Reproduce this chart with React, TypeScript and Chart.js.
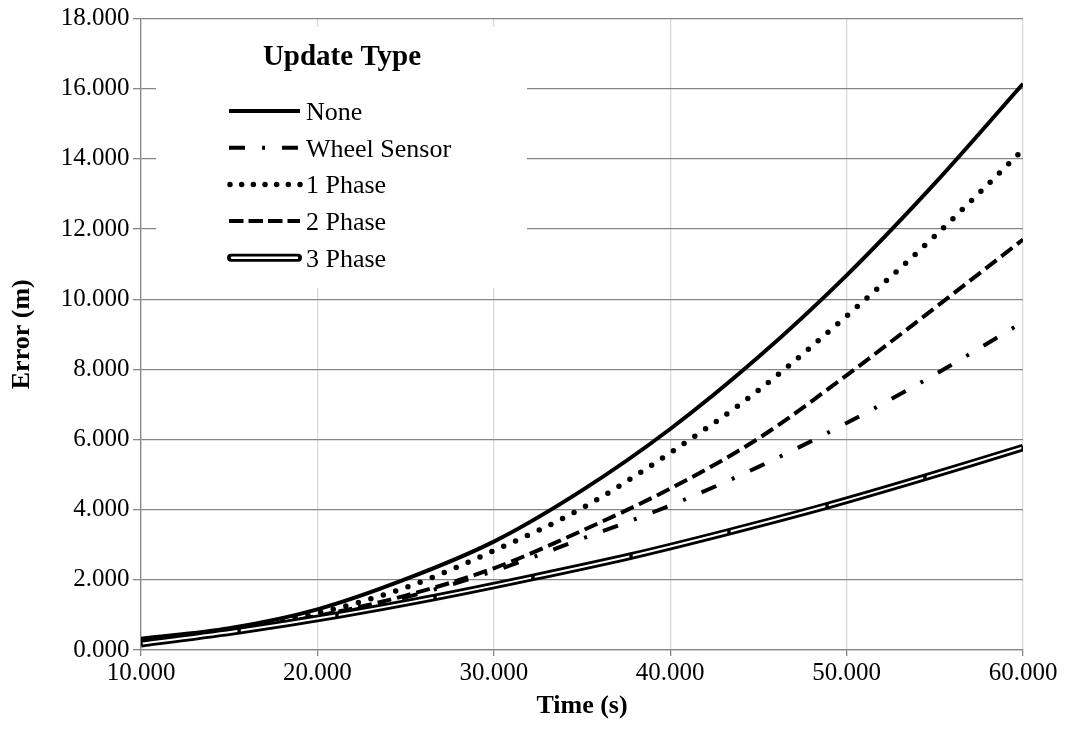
import React, { useEffect, useRef } from "react";
import { Chart, registerables } from "chart.js";

Chart.register(...registerables);

// ---- data ----
const timeSteps = [10, 15, 20, 25, 30, 35, 40, 45, 50, 55, 60];
const noneErr = [0.32, 0.62, 1.16, 2.02, 3.09, 4.55, 6.3, 8.35, 10.68, 13.3, 16.14];
const wheelErr = [0.22, 0.5, 0.92, 1.5, 2.25, 3.17, 4.12, 5.22, 6.47, 7.85, 9.35];
const phase1Err = [0.28, 0.57, 1.05, 1.78, 2.83, 4.04, 5.62, 7.4, 9.52, 11.8, 14.26];
const phase2Err = [0.24, 0.53, 0.97, 1.55, 2.33, 3.4, 4.6, 6.03, 7.83, 9.75, 11.7];
const phase3Time = [10, 15.56, 21.11, 26.67, 32.22, 37.78, 43.33, 48.89, 54.44, 60];
const phase3Err = [0.18, 0.55, 0.99, 1.5, 2.07, 2.68, 3.37, 4.11, 4.92, 5.77];

const seriesNames = ["None", "Wheel Sensor", "1 Phase", "2 Phase", "3 Phase"];
const legendTitle = "Update Type";
const xTitle = "Time (s)";
const yTitle = "Error (m)";
const xMin = 10, xMax = 60, xStep = 10;
const yMin = 0, yMax = 18, yStep = 2;

const FONT = "'Liberation Serif', 'Times New Roman', serif";

const pts = (xs: number[], ys: number[]) => xs.map((x, i) => ({ x, y: ys[i] }));

const dashWheel = [16, 17, 3, 17];
const dashP1 = [0, 13];
const dashP2 = [14, 6];

const legendPlugin = {
  id: "insideLegend",
  afterDraw(chart: any) {
    const ctx = chart.ctx as CanvasRenderingContext2D;
    ctx.save();
    ctx.fillStyle = "#ffffff";
    ctx.fillRect(156, 27, 371, 261);
    ctx.fillStyle = "#000";
    ctx.textBaseline = "alphabetic";
    ctx.textAlign = "center";
    ctx.font = `bold 29px ${FONT}`;
    ctx.fillText(legendTitle, 342, 65);
    ctx.textAlign = "left";
    ctx.font = `26px ${FONT}`;
    const x0 = 229, x1 = 300, tx = 306;
    seriesNames.forEach((name, i) => {
      const base = 120 + i * 36.7;
      const ly = base - 9;
      ctx.strokeStyle = "#000";
      ctx.setLineDash([]);
      ctx.lineCap = "butt";
      ctx.lineWidth = 4;
      if (i === 0) {
        ctx.beginPath(); ctx.moveTo(x0, ly); ctx.lineTo(x1, ly); ctx.stroke();
      } else if (i === 1) {
        ctx.setLineDash(dashWheel);
        ctx.beginPath(); ctx.moveTo(x0, ly); ctx.lineTo(x1, ly); ctx.stroke();
      } else if (i === 2) {
        ctx.lineWidth = 5.5;
        ctx.lineCap = "round";
        ctx.setLineDash([0, 11.67]);
        ctx.beginPath(); ctx.moveTo(x0 + 1, ly); ctx.lineTo(x1 + 1, ly); ctx.stroke();
      } else if (i === 3) {
        ctx.setLineDash([14.5, 5]);
        ctx.beginPath(); ctx.moveTo(x0, ly); ctx.lineTo(x1, ly); ctx.stroke();
      } else {
        ctx.lineCap = "round";
        ctx.lineWidth = 8;
        ctx.beginPath(); ctx.moveTo(x0 + 2, ly); ctx.lineTo(x1 - 2, ly); ctx.stroke();
        ctx.strokeStyle = "#fff";
        ctx.lineWidth = 2.5;
        ctx.beginPath(); ctx.moveTo(x0 + 3, ly); ctx.lineTo(x1 - 3, ly); ctx.stroke();
      }
      ctx.setLineDash([]);
      ctx.fillStyle = "#000";
      ctx.fillText(name, tx, base);
    });
    ctx.restore();
  },
};

export default function App() {
  const ref = useRef<HTMLCanvasElement>(null);
  useEffect(() => {
    document.body.style.margin = "0";
    const canvas = ref.current;
    if (!canvas) return;
    const fmt = (v: any) => Number(v).toFixed(3);
    const chart = new Chart(canvas, {
      type: "line",
      data: {
        datasets: [
          { label: "3 Phase markers", data: pts(phase3Time, phase3Err), showLine: false, pointStyle: "rect", pointRadius: 2.4, pointBackgroundColor: "#000", pointBorderColor: "#000", pointBorderWidth: 0, order: 0 } as any,
          { label: "3 Phase inner", data: pts(phase3Time, phase3Err), borderColor: "#fff", borderWidth: 2, tension: 0.3, pointRadius: 0, order: 1 },
          { label: seriesNames[4], data: pts(phase3Time, phase3Err), borderColor: "#000", borderWidth: 7.5, tension: 0.3, pointRadius: 0, order: 2 },
          { label: seriesNames[3], data: pts(timeSteps, phase2Err), borderColor: "#000", borderWidth: 4, borderDash: dashP2, cubicInterpolationMode: "monotone", pointRadius: 0, order: 3 },
          { label: seriesNames[2], data: pts(timeSteps, phase1Err), borderColor: "#000", borderWidth: 5.5, borderDash: dashP1, borderCapStyle: "round", cubicInterpolationMode: "monotone", pointRadius: 0, order: 4 },
          { label: seriesNames[1], data: pts(timeSteps, wheelErr), borderColor: "#000", borderWidth: 4, borderDash: dashWheel, cubicInterpolationMode: "monotone", pointRadius: 0, order: 5 },
          { label: seriesNames[0], data: pts(timeSteps, noneErr), borderColor: "#000", borderWidth: 4, cubicInterpolationMode: "monotone", pointRadius: 0, order: 6 },
        ],
      },
      options: {
        animation: false,
        responsive: false,
        layout: { padding: { left: 0, right: 43, top: 18, bottom: 0 }, autoPadding: false } as any,
        plugins: { legend: { display: false }, tooltip: { enabled: false } },
        scales: {
          x: {
            type: "linear",
            min: xMin,
            max: xMax,
            ticks: { stepSize: xStep, callback: fmt, font: { family: FONT, size: 25 }, color: "#000", padding: 2, maxRotation: 0, autoSkip: false },
            grid: { color: "#d9d9d9", tickColor: "#868686", tickLength: 6, lineWidth: 1.3 },
            border: { color: "#868686", width: 1.3 },
            title: { display: true, text: xTitle, font: { family: FONT, size: 26, weight: "bold" }, color: "#000", padding: { top: 0, bottom: 14 } },
            afterFit: (s: any) => { s.height = 86; },
          },
          y: {
            type: "linear",
            min: yMin,
            max: yMax,
            ticks: { stepSize: yStep, callback: fmt, font: { family: FONT, size: 25 }, color: "#000", padding: 3.5 },
            grid: { color: "#868686", tickColor: "#868686", tickLength: 8, lineWidth: 1.3 },
            border: { color: "#868686", width: 1.3 },
            title: { display: true, text: yTitle, font: { family: FONT, size: 26, weight: "bold" }, color: "#000", padding: { top: 7, bottom: 0 } },
            afterFit: (s: any) => { s.width = 141; },
          },
        },
      } as any,
      plugins: [legendPlugin],
    });
    return () => chart.destroy();
  }, []);
  return (
    <div style={{ width: 1066, height: 736 }}>
      <canvas ref={ref} width={1066} height={736} style={{ display: "block", width: 1066, height: 736 }} />
    </div>
  );
}
